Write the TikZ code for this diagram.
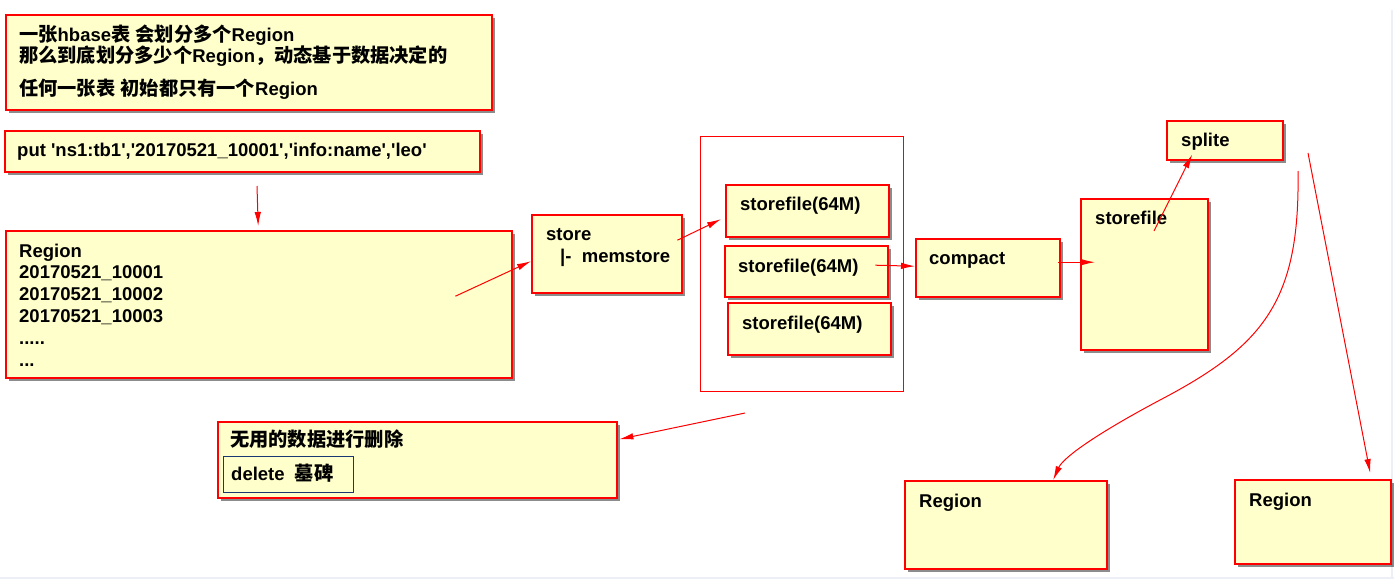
\documentclass[tikz,border=0pt]{standalone}
\usepackage{fontspec}
\setmainfont{Liberation Sans}
\newfontfamily\cjk{Noto Sans CJK SC}[Scale=1.04]
\usetikzlibrary{arrows.meta,shadows}
\newcommand\sq{\textquotesingle}
\definecolor{boxfill}{RGB}{255,255,204}
\definecolor{boxred}{RGB}{255,0,0}
\definecolor{navy}{RGB}{25,55,115}
\definecolor{edgecol}{RGB}{236,240,246}
\tikzset{
  box/.style={draw=boxred, line width=2.4pt, fill=boxfill, rectangle, inner sep=0pt,
    anchor=north west, drop shadow={shadow xshift=3pt, shadow yshift=-3pt, opacity=0.45, fill=black}},
  txt/.style={anchor=base west, inner sep=0pt, font=\bfseries\fontsize{18.5}{22}\selectfont},
  arr/.style={draw=red, line width=1pt, -{Latex[length=14pt,width=6.5pt]}},
}
\begin{document}
\begin{tikzpicture}[x=1pt,y=-1pt]
\useasboundingbox (0,0) rectangle (1394,579);
\fill[white] (0,0) rectangle (1394,579);
\fill[edgecol] (0,576.5) rectangle (1394,579);
\fill[edgecol] (1390.5,10) rectangle (1393,579);

% top-left note
\node[box, minimum width=486pt, minimum height=95pt] (b1) at (5,14) {};
\node[txt] (b1l1) at (19,41) {{\cjk 一张}hbase{\cjk 表} {\cjk 会划分多个}Region};
\node[txt] (b1l2) at (19,62) {{\cjk 那么到底划分多少个}Region{\cjk ，动态基于数据决定的}};
\node[txt] (b1l3) at (19,95) {{\cjk 任何一张表} {\cjk 初始都只有一个}Region};

% put command
\node[box, minimum width=475pt, minimum height=41pt] (put) at (4,129.5) {};
\node[txt] (putt) at (17,156) {put \sq ns1:tb1\sq,\sq 20170521\_10001\sq,\sq info:name\sq,\sq leo\sq};

% region table
\node[box, minimum width=506pt, minimum height=147pt] (reg) at (5,230) {};
\node[txt] (regl1) at (19,257) {Region};
\node[txt] (regl2) at (19,278.8) {20170521\_10001};
\node[txt] (regl3) at (19,300.6) {20170521\_10002};
\node[txt] (regl4) at (19,322.4) {20170521\_10003};
\node[txt] (regl5) at (19,344.2) {.....};
\node[txt] (regl6) at (19,366) {...};

% store
\node[box, minimum width=150pt, minimum height=78pt] (store) at (531,214) {};
\node[txt] (storet1) at (546,240) {store};
\node[txt] (storet2) at (560,262) {|-~ memstore};

% group of storefiles
\node[draw=red, line width=1pt, rectangle, anchor=north west, minimum width=203pt, minimum height=255pt, inner sep=0pt] (grp) at (700,136) {};
\node[box, minimum width=163pt, minimum height=52pt] (sf1) at (725,184) {};
\node[txt] (sf1t) at (740,210) {storefile(64M)};
\node[box, minimum width=163pt, minimum height=51pt] (sf2) at (724,245) {};
\node[txt] (sf2t) at (738,272) {storefile(64M)};
\node[box, minimum width=163pt, minimum height=52pt] (sf3) at (727,302) {};
\node[txt] (sf3t) at (742,329) {storefile(64M)};

% compact
\node[box, minimum width=144pt, minimum height=58pt] (compact) at (915,238) {};
\node[txt] (compactt) at (929,264) {compact};

% big storefile
\node[box, minimum width=127pt, minimum height=151pt] (bigsf) at (1080,198) {};
\node[txt] (bigsft) at (1095,224) {storefile};

% splite
\node[box, minimum width=116pt, minimum height=39pt] (splite) at (1166,120) {};
\node[txt] (splitet) at (1181,146) {splite};

% two regions
\node[box, minimum width=202pt, minimum height=88pt] (regL) at (904,480) {};
\node[txt] (regLt) at (919,507) {Region};
\node[box, minimum width=156pt, minimum height=84pt] (regR) at (1234,479) {};
\node[txt] (regRt) at (1249,506) {Region};

% delete box
\node[box, minimum width=399pt, minimum height=76pt] (del) at (217,421) {};
\node[txt] (delt) at (230,446) {\cjk 无用的数据进行删除};
\node[draw=navy, line width=1pt, rectangle, anchor=north west, minimum width=130pt, minimum height=36pt, inner sep=0pt] (tomb) at (222.5,456) {};
\node[txt] (tombt) at (231,480) {delete~ {\cjk 墓碑}};

% free ends
\coordinate (a1s) at (257,186);
\coordinate (a2s) at ([xshift=-58pt,yshift=8.5pt]reg.east);
\coordinate (a3s) at ([xshift=-6pt,yshift=14pt]store.east);
\coordinate (a4s) at ([xshift=-14pt,yshift=6.5pt]sf2.east);
\coordinate (a5s) at ([xshift=-3.5pt,yshift=6pt]compact.east);
\coordinate (a6s) at ([xshift=74pt,yshift=-33pt]bigsf.north west);
\coordinate (a7s) at (1298,171);
\coordinate (a8s) at (1308,153);
\coordinate (a9s) at (745,413);

% connectors
\draw[arr] (a1s) -- ([xshift=-1pt,yshift=4pt]reg.north);
\draw[arr] (a2s) -- ([yshift=-7pt]store.west);
\draw[arr] (a3s) -- ([xshift=-4pt,yshift=-8pt]sf1.west);
\draw[arr] (a4s) -- ([yshift=2pt]compact.west);
\draw[arr] (a5s) -- ([xshift=15pt,yshift=12.5pt]bigsf.west);
\draw[arr] (a6s) -- ([xshift=-33pt,yshift=7pt]splite.south);
\draw[arr] (a7s) .. controls (1300,300) and (1265,345) .. (1160,400)
   .. controls (1085,440) and (1062,460) .. ([xshift=47pt]regL.north);
\draw[arr] (a8s) -- ([xshift=57pt,yshift=6pt]regR.north);
\draw[arr] (a9s) -- ([xshift=1pt,yshift=21pt]del.east);
\end{tikzpicture}
\end{document}
